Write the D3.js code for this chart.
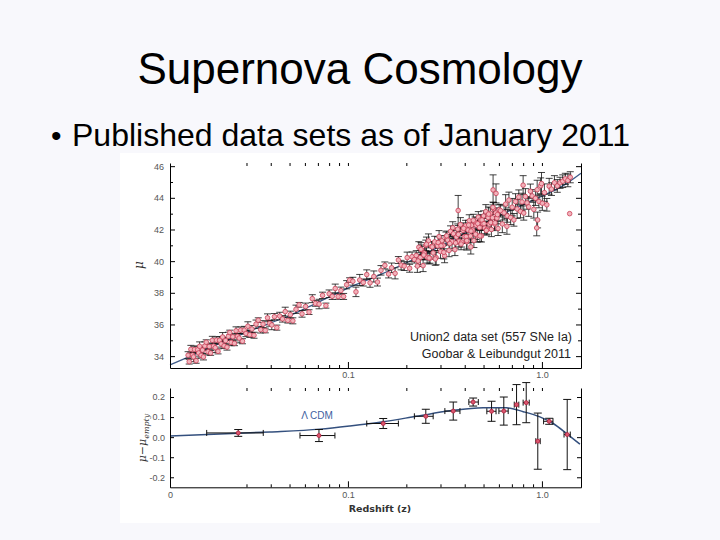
<!DOCTYPE html>
<html><head><meta charset="utf-8">
<script src="https://cdn.jsdelivr.net/npm/d3@7"></script>
<style>
html,body{margin:0;padding:0;background:#f8f8fc;}
svg{display:block;}
</style></head><body>
<svg id="c" width="720" height="540"></svg>
<script>
// ---------- text ----------
const titleText = "Supernova Cosmology";
const bulletText = "Published data sets as of January 2011";
const noteLines = ["Union2 data set (557 SNe Ia)", "Goobar & Leibundgut 2011"];

// ---------- Hubble diagram data, grouped by redshift range ----------
const lowZ = [
0.0150,0.0152,0.0155,0.0158,0.0160,0.0162,0.0165,0.0168,0.0170,0.0172,0.0175,0.0178,0.0180,0.0183,0.0186,0.0190,
0.0193,0.0196,0.0200,0.0203,0.0207,0.0210,0.0214,0.0218,0.0222,0.0226,0.0230,0.0234,0.0238,0.0242,0.0246,0.0250,
0.0255,0.0260,0.0265,0.0270,0.0275,0.0280,0.0286,0.0292,0.0298,0.0305,0.0312,0.0320,0.0328,0.0336,0.0345,0.0355,
0.0365,0.0375,0.0385,0.0395,0.0405,0.0418,0.0430,0.0445,0.0460,0.0475,0.0490,0.0505,0.0520,0.0540,0.0560,0.0580,
0.0605,0.0630,0.0655,0.0680,0.0710,0.0740,0.0770,0.0800,0.0830,0.0860,0.0890,0.0920,0.0950,0.0985,0.1020];
const lowMu = [
34.06,33.65,34.43,34.07,33.95,34.42,33.71,34.40,34.20,34.62,34.05,34.38,33.95,34.64,34.88,34.28,
34.61,34.20,35.00,34.63,34.53,35.01,34.30,35.00,34.77,35.21,34.65,34.98,34.57,35.25,35.49,34.87,
35.22,34.81,35.60,35.25,35.14,35.64,34.94,35.64,35.43,35.89,35.35,35.71,35.32,36.02,36.27,35.67,
36.02,35.62,36.42,36.07,35.97,36.49,35.80,36.53,36.35,36.81,36.26,36.62,36.23,36.96,37.24,36.67,
37.13,36.78,37.63,37.33,37.29,37.84,37.19,37.94,37.78,38.27,37.76,38.14,37.77,38.51,38.80];
const lowErr = [
0.22,0.15,0.25,0.18,0.30,0.20,0.16,0.24,0.20,0.28,0.17,0.22,0.19,0.26,0.15,0.21,
0.22,0.15,0.25,0.18,0.30,0.20,0.16,0.24,0.20,0.28,0.17,0.22,0.19,0.26,0.15,0.21,
0.22,0.15,0.25,0.18,0.30,0.20,0.16,0.24,0.20,0.28,0.17,0.22,0.19,0.26,0.15,0.21,
0.22,0.15,0.25,0.18,0.30,0.20,0.16,0.24,0.20,0.28,0.17,0.22,0.19,0.26,0.15,0.21,
0.22,0.15,0.25,0.18,0.30,0.20,0.16,0.24,0.20,0.28,0.17,0.22,0.19,0.26,0.15];

const midZ = [0.106,0.110,0.115,0.120,0.125,0.130,0.136,0.142,0.148,0.155,0.162,0.168,0.175,0.182,0.188,0.195,0.202,0.208,0.214,0.220];
const midMu = [38.73,38.06,38.81,38.65,39.15,38.63,39.03,38.68,39.42,39.73,39.19,39.58,39.23,40.07,39.75,39.69,40.22,39.55,40.28,40.10];
const midErr = [0.25,0.30,0.35,0.22,0.30,0.28,0.35,0.25,0.30,0.22,0.25,0.30,0.35,0.22,0.30,0.28,0.35,0.25,0.30,0.22];

const denseZ = [
0.225,0.228,0.232,0.236,0.240,0.244,0.248,0.252,0.256,0.260,0.265,0.270,0.275,0.280,0.285,0.290,0.295,0.300,0.305,0.310,0.315,0.320,
0.326,0.332,0.338,0.344,0.350,0.356,0.362,0.368,0.374,0.380,0.386,0.392,0.398,0.404,0.410,0.416,0.422,0.428,0.434,0.440,0.446,0.452,
0.458,0.464,0.470,0.476,0.482,0.488,0.494,0.500,0.507,0.514,0.521,0.528,0.535,0.542,0.549,0.556,0.563,0.570,0.578,0.586,0.594,0.602,
0.230,0.238,0.246,0.254,0.262,0.272,0.282,0.292,0.302,0.312,0.323,0.335,0.347,0.359,0.371,0.383,
0.395,0.407,0.419,0.431,0.443,0.455,0.467,0.479,0.491,0.503,0.517,0.531,0.545,0.559,0.573,0.590];
const denseMu = [
40.36,39.69,40.88,40.23,40.72,39.72,40.51,41.00,40.24,41.28,40.18,40.93,40.52,41.22,40.22,40.96,41.55,40.60,41.29,40.99,40.34,41.53,
41.33,40.68,41.88,41.23,41.73,40.73,41.52,42.02,41.26,42.31,41.20,41.94,41.54,42.23,41.22,41.96,42.55,41.59,42.27,41.96,41.30,42.48,
42.27,41.60,42.78,42.12,42.60,41.59,42.37,42.85,42.09,43.13,42.01,42.75,42.34,43.02,42.00,42.74,43.32,42.35,43.04,42.72,42.06,43.25,
40.01,40.75,40.39,41.07,40.20,40.90,40.14,41.18,40.97,40.56,41.60,41.11,42.11,41.15,41.69,41.08,
42.07,41.55,42.28,41.90,42.58,41.70,42.37,41.59,42.60,42.37,41.94,42.97,42.44,43.40,42.42,42.94];
const denseErr = [
0.30,0.40,0.35,0.45,0.30,0.38,0.42,0.33,0.36,0.44,0.31,0.30,0.40,0.35,0.45,0.30,0.38,0.42,0.33,0.36,0.44,0.31,
0.30,0.40,0.35,0.45,0.30,0.38,0.42,0.33,0.36,0.44,0.31,0.30,0.40,0.35,0.45,0.30,0.38,0.42,0.33,0.36,0.44,0.31,
0.30,0.40,0.35,0.45,0.30,0.38,0.42,0.33,0.36,0.44,0.31,0.30,0.40,0.35,0.45,0.30,0.38,0.42,0.33,0.36,0.44,0.31,
0.35,0.42,0.30,0.45,0.38,0.33,0.40,0.36,0.35,0.42,0.30,0.45,0.38,0.33,0.40,0.36,
0.35,0.42,0.30,0.45,0.38,0.33,0.40,0.36,0.35,0.42,0.30,0.45,0.38,0.33,0.40,0.36];

const highZ = [
0.612,0.625,0.638,0.650,0.663,0.676,0.690,0.703,0.717,0.731,0.745,0.760,0.775,0.790,0.806,0.822,0.838,0.855,0.872,
0.890,0.908,0.926,0.945,0.965,0.985,1.005,1.030,1.060,1.090,1.120,1.160,1.200,1.240,1.280,1.320,1.360,1.400];
const highMu = [
43.19,42.35,43.05,43.60,42.86,43.86,42.76,43.41,42.61,43.76,43.30,44.05,43.14,43.74,43.04,44.08,43.68,43.43,44.42,
44.12,43.27,43.97,44.51,43.77,44.76,43.66,44.33,43.56,44.73,44.55,44.95,44.75,44.95,45.05,45.20,45.10,45.30];
const highErr = [
0.40,0.55,0.45,0.60,0.40,0.50,0.45,0.55,0.40,0.50,0.60,0.45,0.40,0.55,0.45,0.50,0.40,0.60,0.45,
0.40,0.55,0.45,0.60,0.40,0.50,0.45,0.55,0.40,0.50,0.40,0.45,0.40,0.35,0.40,0.35,0.40,0.35];

const outZ   = [0.370,0.430,0.560,0.580,0.950,0.940,0.410,0.800,0.995,1.390,0.660];
const outMu  = [43.20,40.90,44.50,44.28,42.60,42.10,41.30,44.80,44.90,43.00,42.20];
const outErr = [0.95,0.45,0.95,0.60,0.50,0.50,0.60,0.60,0.70,0.00,0.50];

const snZ   = [].concat(lowZ, midZ, denseZ, highZ, outZ);
const snMu  = [].concat(lowMu, midMu, denseMu, highMu, outMu);
const snErr = [].concat(lowErr, midErr, denseErr, highErr, outErr);

// LambdaCDM model curve
const lcdmZ  = [0.0121,0.0148,0.02,0.025,0.03,0.04,0.05,0.07,0.1,0.15,0.2,0.3,0.4,0.5,0.7,1.0,1.3,1.59];
const lcdmMu = [33.45,33.9,34.6,35.1,35.5,36.1,36.55,37.4,38.3,39.2,39.9,40.95,41.75,42.35,43.25,44.1,44.8,45.55];

// ---------- residual panel data ----------
const resZ   = [0.0272,0.0709,0.152,0.252,0.349,0.442,0.550,0.636,0.740,0.830,0.952,1.090,1.350];
const resV   = [0.021,0.008,0.068,0.104,0.130,0.175,0.129,0.130,0.162,0.172,-0.020,0.079,0.013];
const resErr = [0.017,0.030,0.025,0.035,0.045,0.020,0.050,0.070,0.100,0.100,0.140,0.015,0.175];
const resZlo = [0.0187,0.0566,0.125,0.220,0.316,0.420,0.520,0.600,0.720,0.800,0.930,1.020,1.300];
const resZhi = [0.0366,0.0857,0.182,0.275,0.378,0.470,0.580,0.670,0.760,0.860,0.980,1.140,1.400];

const lcdmResZ = [0.0121,0.0219,0.0396,0.0717,0.1024,0.152,0.226,0.336,0.498,0.658,0.801,0.976,1.143,1.34,1.57];
const lcdmResV = [0.006,0.016,0.026,0.040,0.056,0.077,0.104,0.131,0.146,0.146,0.127,0.101,0.068,0.018,-0.035];

// ---------- ticks ----------
const xMinorTicks = [0.03,0.04,0.05,0.06,0.07,0.08,0.09,0.2,0.3,0.4,0.5,0.6,0.7,0.8,0.9];
const xMajorTicks = [0.1,1.0];
const xMajorLabels = ["0.1","1.0"];
const xBottomTicks = [0.0121,0.1,1.0];
const xBottomLabels = ["0","0.1","1.0"];
const muMajor = [34,36,38,40,42,44,46];
const muMinor = [35,37,39,41,43,45];
const resTicks = [-0.2,-0.1,0,0.1,0.2];
const resLabels = ["-0.2","-0.1","0.0","0.1","0.2"];

// ---------- drawing ----------
const FONT = "'Liberation Sans', Arial, Helvetica, sans-serif";
const svg = d3.select("#c");
svg.append("rect").attr("width",720).attr("height",540).attr("fill","#f8f8fc");

svg.append("text").attr("x",360).attr("y",84).attr("text-anchor","middle")
  .attr("font-family",FONT).attr("font-size",44).attr("fill","#000").text(titleText);
svg.append("text").attr("x",51).attr("y",146).attr("font-family",FONT).attr("font-size",30).attr("fill","#000").text("•");
svg.append("text").attr("x",72).attr("y",146).attr("font-family",FONT).attr("font-size",32).attr("fill","#000").text(bulletText);

// figure area
svg.append("rect").attr("x",120).attr("y",153).attr("width",480).attr("height",370).attr("fill","#ffffff");

const x = d3.scaleLog().domain([0.0121,1.59]).range([170,581]);
const yTop = d3.scaleLinear().domain([33.25,46.2]).range([368,163]);
const yBot = d3.scaleLinear().domain([-0.25,0.245]).range([487.3,388]);

function styleAxis(g){
  g.selectAll("path.domain").attr("stroke","#000").attr("stroke-width",1);
  g.selectAll(".tick line").attr("stroke","#000").attr("stroke-width",1);
  g.selectAll(".tick text").attr("font-family",FONT).attr("font-size",9).attr("fill","#555");
}
function noDomain(g){ g.select("path.domain").remove(); }
function xFmt(vals, labs){ return d => { const i = vals.indexOf(d); return i>=0 ? labs[i] : ""; }; }

// ----- upper panel -----
const gT = svg.append("g");
const lineTop = d3.line().x((d,i)=>x(lcdmZ[i])).y((d,i)=>yTop(lcdmMu[i])).curve(d3.curveMonotoneX);
gT.append("path").attr("d", lineTop(lcdmZ)).attr("fill","none").attr("stroke","#3d5a88").attr("stroke-width",1.3);

const eb = gT.append("g").attr("stroke","#111").attr("stroke-width",0.8);
snZ.forEach((z,i)=>{
  if (!(snErr[i] > 0)) return;
  const px = x(z), y1 = yTop(snMu[i]-snErr[i]), y2 = yTop(snMu[i]+snErr[i]);
  eb.append("line").attr("x1",px).attr("x2",px).attr("y1",y1).attr("y2",y2);
  eb.append("line").attr("x1",px-3.5).attr("x2",px+3.5).attr("y1",y1).attr("y2",y1);
  eb.append("line").attr("x1",px-3.5).attr("x2",px+3.5).attr("y1",y2).attr("y2",y2);
});
gT.append("g").selectAll("circle").data(snZ).join("circle")
  .attr("cx",(d)=>x(d)).attr("cy",(d,i)=>yTop(snMu[i])).attr("r",2.3)
  .attr("fill","#f2b3bb").attr("stroke","#cc4058").attr("stroke-width",0.8);

styleAxis(gT.append("g").attr("transform","translate(170,0)")
  .call(d3.axisLeft(yTop).tickValues(muMajor).tickSize(-5).tickSizeOuter(0).tickPadding(6).tickFormat(d3.format("d"))));
gT.append("g").attr("transform","translate(170,0)")
  .call(d3.axisLeft(yTop).tickValues(muMinor).tickSize(-3).tickFormat("")).call(noDomain).call(styleAxis);
styleAxis(gT.append("g").attr("transform","translate(581,0)")
  .call(d3.axisRight(yTop).tickValues(muMajor).tickSize(-5).tickSizeOuter(0).tickFormat("")));
gT.append("g").attr("transform","translate(581,0)")
  .call(d3.axisRight(yTop).tickValues(muMinor).tickSize(-3).tickFormat("")).call(noDomain).call(styleAxis);
styleAxis(gT.append("g").attr("transform","translate(0,368)")
  .call(d3.axisBottom(x).tickValues(xMajorTicks).tickSize(-6).tickSizeOuter(0).tickPadding(4).tickFormat(xFmt(xMajorTicks,xMajorLabels))));
gT.append("g").attr("transform","translate(0,368)")
  .call(d3.axisBottom(x).tickValues(xMinorTicks).tickSize(-3).tickFormat("")).call(noDomain).call(styleAxis);
gT.append("g").attr("transform","translate(0,163)")
  .call(d3.axisTop(x).tickValues(xMinorTicks.concat(xMajorTicks)).tickSize(-3).tickFormat("")).call(noDomain).call(styleAxis);

gT.append("text").attr("transform","translate(143,265) rotate(-90)").attr("text-anchor","middle")
  .attr("font-family","'DejaVu Serif', serif").attr("font-style","italic").attr("font-size",12).attr("fill","#333").text("μ");

const note = gT.append("text").attr("font-family",FONT).attr("font-size",12.5).attr("fill","#222").attr("text-anchor","end");
note.append("tspan").attr("x",572).attr("y",341).text(noteLines[0]);
note.append("tspan").attr("x",571).attr("y",358).text(noteLines[1]);

// ----- lower panel -----
const gB = svg.append("g");
const lineBot = d3.line().x((d,i)=>x(lcdmResZ[i])).y((d,i)=>yBot(lcdmResV[i])).curve(d3.curveMonotoneX);
gB.append("path").attr("d", lineBot(lcdmResZ)).attr("fill","none").attr("stroke","#34507e").attr("stroke-width",1.5);

const eb2 = gB.append("g").attr("stroke","#111").attr("stroke-width",1);
resZ.forEach((z,i)=>{
  const px = x(z), py = yBot(resV[i]);
  const xl = x(resZlo[i]), xh = x(resZhi[i]);
  eb2.append("line").attr("x1",xl).attr("x2",xh).attr("y1",py).attr("y2",py);
  eb2.append("line").attr("x1",xl).attr("x2",xl).attr("y1",py-3).attr("y2",py+3);
  eb2.append("line").attr("x1",xh).attr("x2",xh).attr("y1",py-3).attr("y2",py+3);
  const y1 = yBot(resV[i]-resErr[i]), y2 = yBot(resV[i]+resErr[i]);
  eb2.append("line").attr("x1",px).attr("x2",px).attr("y1",y1).attr("y2",y2);
  eb2.append("line").attr("x1",px-4).attr("x2",px+4).attr("y1",y1).attr("y2",y1);
  eb2.append("line").attr("x1",px-4).attr("x2",px+4).attr("y1",y2).attr("y2",y2);
});
gB.append("g").selectAll("circle").data(resZ).join("circle")
  .attr("cx",d=>x(d)).attr("cy",(d,i)=>yBot(resV[i])).attr("r",2)
  .attr("fill","#d9576e").attr("stroke","#b5203e").attr("stroke-width",0.8);

styleAxis(gB.append("g").attr("transform","translate(170,0)")
  .call(d3.axisLeft(yBot).tickValues(resTicks).tickSize(-4).tickSizeOuter(0).tickPadding(5).tickFormat((d,i)=>resLabels[i])));
styleAxis(gB.append("g").attr("transform","translate(581,0)")
  .call(d3.axisRight(yBot).tickValues(resTicks).tickSize(-4).tickSizeOuter(0).tickFormat("")));
styleAxis(gB.append("g").attr("transform","translate(0,487.3)")
  .call(d3.axisBottom(x).tickValues(xBottomTicks).tickSize(-6).tickSizeOuter(0).tickPadding(4).tickFormat(xFmt(xBottomTicks,xBottomLabels))));
gB.append("g").attr("transform","translate(0,487.3)")
  .call(d3.axisBottom(x).tickValues(xMinorTicks).tickSize(-3).tickFormat("")).call(noDomain).call(styleAxis);
gB.append("g").attr("transform","translate(0,388)")
  .call(d3.axisTop(x).tickValues(xMinorTicks.concat(xMajorTicks)).tickSize(-3).tickFormat("")).call(noDomain).call(styleAxis);

gB.append("text").attr("x",317).attr("y",419).attr("text-anchor","middle")
  .attr("font-family",FONT).attr("font-size",10).attr("fill","#3f5f9f").text("Λ CDM");

const yl = gB.append("text").attr("transform","translate(146,438) rotate(-90)").attr("text-anchor","middle")
  .attr("font-family","'DejaVu Serif', serif").attr("font-style","italic").attr("font-size",11).attr("fill","#333");
yl.append("tspan").text("μ−μ");
yl.append("tspan").attr("font-size",8).attr("dy",3).text("empty");

gB.append("text").attr("x",380).attr("y",512).attr("text-anchor","middle")
  .attr("font-family","'DejaVu Sans', sans-serif").attr("font-weight","bold").attr("font-size",9.5).attr("fill","#333").text("Redshift (z)");
</script>
</body></html>
